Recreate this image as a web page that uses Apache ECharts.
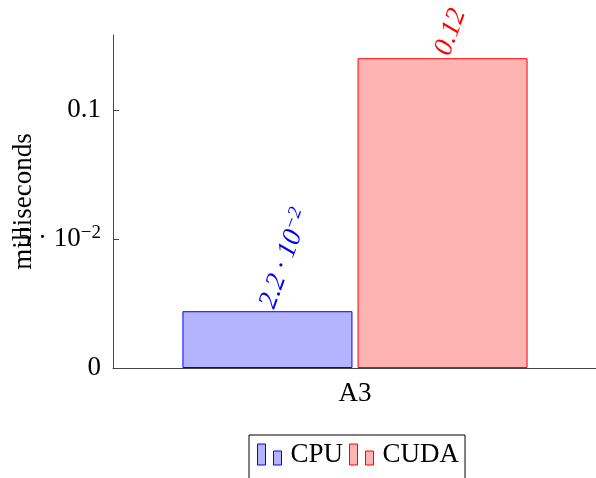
<!DOCTYPE html>
<html>
<head>
<meta charset="utf-8">
<script src="https://cdn.jsdelivr.net/npm/echarts@6/dist/echarts.min.js"></script>
<style>html,body{margin:0;padding:0;background:#fff}#c{width:596px;height:478px}</style>
</head>
<body>
<div id="c"></div>
<script>
const categories = ['A3'];
const cpuValues = [0.022];
const cudaValues = [0.12];
const cpuLabels = ['2.2 · 10^-2'];
const cudaLabels = ['0.12'];
const yTicks = [0, 0.05, 0.1];

const chart = echarts.init(document.getElementById('c'));
const font = 'Liberation Serif';

function valueLabel(txt, color) {
    // 2.2 · 10^-2 -> base + superscript
    const parts = txt.split('^');
    return {
        show: true, position: 'top', distance: 4, rotate: 70,
        align: 'left', verticalAlign: 'middle',
        formatter: parts.length > 1 ? '{b|' + parts[0] + '}{s|−' + parts[1].replace('-', '') + '}' : '{b|' + parts[0] + '}',
        rich: {
            b: { fontFamily: font, fontSize: 27, fontStyle: 'italic', color: color },
            s: { fontFamily: font, fontSize: 19, fontStyle: 'italic', color: color, verticalAlign: 'top', padding: [0, 0, 12, 0] }
        }
    };
}

const legendIcon = 'path://M0,0h8v21h-8z M16,7h8v14h-8z';

chart.setOption({
    animation: false,
    grid: { left: 113, right: -1, top: 35, bottom: 110, outerBoundsMode: 'none', containLabel: false },
    legend: {
        left: 249, top: 435,
        itemWidth: 24, itemHeight: 21, itemGap: 6,
        padding: [6, 6, 20, 8],
        borderColor: '#000', borderWidth: 1,
        textStyle: { fontFamily: font, fontSize: 27, color: '#000', padding: [6, 0, 0, 4] },
        data: [
            { name: 'CPU', icon: legendIcon, itemStyle: { color: '#b3b3ff', borderColor: '#0000ff', borderWidth: 1 } },
            { name: 'CUDA', icon: legendIcon, itemStyle: { color: '#ffb3b3', borderColor: '#ff0000', borderWidth: 1 } }
        ]
    },
    xAxis: {
        type: 'category', data: categories,
        axisLine: { lineStyle: { color: '#444' } },
        axisTick: { alignWithLabel: true, length: 10, lineStyle: { color: '#444' } },
        axisLabel: { fontFamily: font, fontSize: 27, color: '#000', margin: 12 }
    },
    yAxis: {
        type: 'value', min: 0, max: 0.129, interval: 0.05,
        name: 'milliseconds', nameLocation: 'middle', nameGap: 76, nameRotate: 90,
        nameMoveOverlap: false,
        nameTextStyle: { fontFamily: font, fontSize: 27, color: '#000' },
        axisLine: { show: true, lineStyle: { color: '#444' } },
        axisTick: { show: true, inside: true, length: 6, customValues: yTicks, lineStyle: { color: '#444' } },
        splitLine: { show: false },
        axisLabel: {
            margin: 12, color: '#000', customValues: yTicks,
            formatter: v => {
                if (v === 0) return '{b|0}';
                if (Math.abs(v - 0.05) < 1e-9) return '{b|5 · 10}{s|−2}';
                return '{b|' + v + '}';
            },
            rich: {
                b: { fontFamily: font, fontSize: 27, color: '#000' },
                s: { fontFamily: font, fontSize: 19, color: '#000', verticalAlign: 'top', padding: [0, 0, 12, 0] }
            }
        }
    },
    series: [
        {
            name: 'CPU', type: 'bar', data: cpuValues, barWidth: 170, barGap: '3%',
            itemStyle: { color: '#b3b3ff', borderColor: '#0000ff', borderWidth: 1 },
            label: valueLabel(cpuLabels[0], '#0000ff')
        },
        {
            name: 'CUDA', type: 'bar', data: cudaValues, barWidth: 170,
            itemStyle: { color: '#ffb3b3', borderColor: '#ff0000', borderWidth: 1 },
            label: valueLabel(cudaLabels[0], '#ff0000')
        }
    ]
});
</script>
</body>
</html>
